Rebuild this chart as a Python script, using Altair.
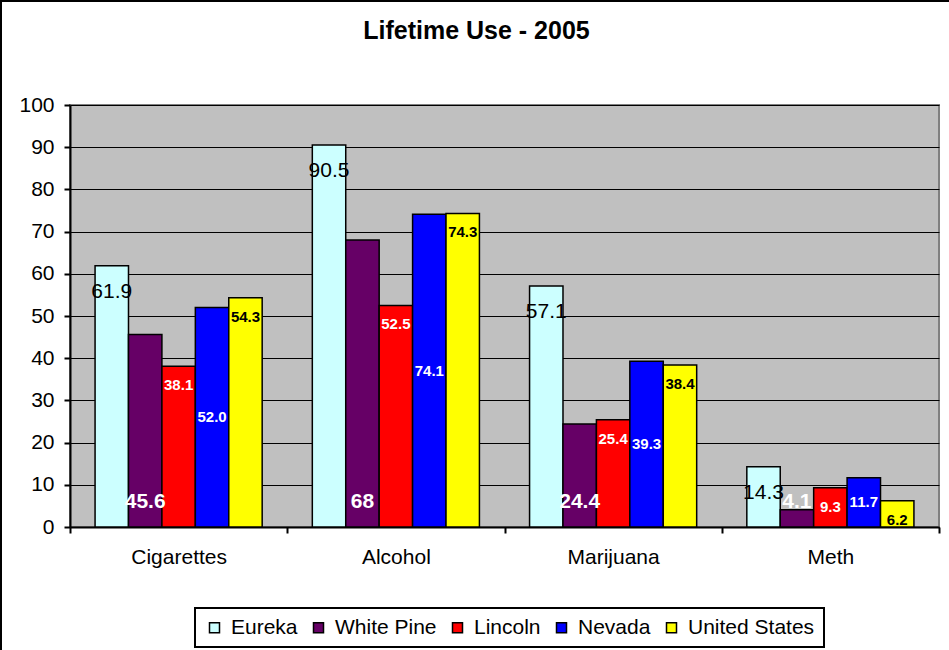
import altair as alt
import pandas as pd

# Lifetime substance use, 2005 (percent)
substances = ["Cigarettes", "Alcohol", "Marijuana", "Meth"]
regions = ["Eureka", "White Pine", "Lincoln", "Nevada", "United States"]
colors = ["#CCFFFF", "#660066", "#FF0000", "#0000FF", "#FFFF00"]

eureka = ["61.9", "90.5", "57.1", "14.3"]
white_pine = ["45.6", "68", "24.4", "4.1"]
lincoln = ["38.1", "52.5", "25.4", "9.3"]
nevada = ["52.0", "74.1", "39.3", "11.7"]
united_states = ["54.3", "74.3", "38.4", "6.2"]

series = [eureka, white_pine, lincoln, nevada, united_states]
rows = []
for region, labels in zip(regions, series):
    for substance, label in zip(substances, labels):
        rows.append({"substance": substance, "region": region,
                     "value": float(label), "label": label})
df = pd.DataFrame(rows)

FONT = "Liberation Sans"
W, H = 869, 422

x_axis = alt.Axis(title=None, labelAngle=0, tickBand="extent",
                  labelFontSize=21, labelColor="black", labelPadding=13,
                  tickSize=6, tickWidth=2, tickColor="black",
                  domainColor="black", domainWidth=2, grid=False)
y_axis = alt.Axis(title=None, values=list(range(0, 101, 10)),
                  labelFontSize=21, labelColor="black", labelPadding=10,
                  tickSize=6, tickWidth=2, tickColor="black",
                  domainColor="black", domainWidth=2,
                  grid=True, gridColor="black", gridWidth=1)

x_enc = alt.X("substance:N", sort=substances,
              scale=alt.Scale(paddingInner=0, paddingOuter=0), axis=x_axis)
xoff = alt.XOffset("region:N", sort=regions,
                   scale=alt.Scale(domain=regions, paddingInner=0, paddingOuter=0.75))
y_scale = alt.Scale(domain=[0, 100], nice=False)

bars = alt.Chart(df).mark_bar(stroke="black", strokeWidth=1.5).encode(
    x=x_enc,
    xOffset=xoff,
    y=alt.Y("value:Q", scale=y_scale, axis=y_axis),
    color=alt.Color("region:N", sort=regions,
                    scale=alt.Scale(domain=regions, range=colors),
                    legend=alt.Legend(title=None, orient="none", direction="horizontal",
                                      columns=5, legendX=125, legendY=503,
                                      labelFontSize=21, labelColor="black",
                                      labelOffset=6, columnPadding=10,
                                      symbolType="square", symbolSize=100,
                                      symbolStrokeColor="black", symbolStrokeWidth=1.5,
                                      strokeColor="black",
                                      padding=9, fillColor="white")),
)


def labels(region, color, size, weight, dy=0, ypos="datum.value"):
    return alt.Chart(df).transform_filter(
        alt.datum.region == region
    ).transform_calculate(
        ypos=ypos
    ).mark_text(align="center", baseline="middle", dy=dy, fontSize=size,
                fontWeight=weight, color=color, font=FONT).encode(
        x=x_enc,
        xOffset=xoff,
        y=alt.Y("ypos:Q", scale=y_scale, axis=y_axis),
        text="label:N",
    )


eureka_lbl = labels("Eureka", "black", 21, "normal", dy=26)
white_pine_lbl = labels("White Pine", "white", 21, "bold", ypos="6")
lincoln_lbl = labels("Lincoln", "white", 15, "bold", dy=19)
nevada_lbl = labels("Nevada", "white", 15, "bold", ypos="datum.value / 2")
us_lbl = labels("United States", "black", 15, "bold", dy=19)

# outer frame edges of the chart area
one = pd.DataFrame({"k": [0]})
frame_top = alt.Chart(one).mark_rule(color="black", strokeWidth=2).encode(
    x=alt.value(-70), x2=alt.value(W + 10), y=alt.value(-104))
frame_left = alt.Chart(one).mark_rule(color="black", strokeWidth=2).encode(
    x=alt.value(-69), y=alt.value(-105), y2=alt.value(H + 123))

chart = alt.layer(
    bars, white_pine_lbl, eureka_lbl, lincoln_lbl, nevada_lbl, us_lbl,
    frame_top, frame_left,
).properties(
    width=W, height=H,
    title=alt.Title("Lifetime Use - 2005", fontSize=25, fontWeight="bold",
                    font=FONT, color="black", anchor="middle", dx=-28,
                    offset=-70, baseline="bottom"),
    autosize=alt.AutoSizeParams(type="none"),
    padding={"left": 70, "top": 105, "right": 10, "bottom": 123},
).configure(
    font=FONT, background="white",
).configure_view(
    fill="#C0C0C0", stroke="#808080", strokeWidth=2,
).configure_legend(
    strokeWidth=2,
)

chart.save("out.html", embed_options={"renderer": "svg", "actions": False})
